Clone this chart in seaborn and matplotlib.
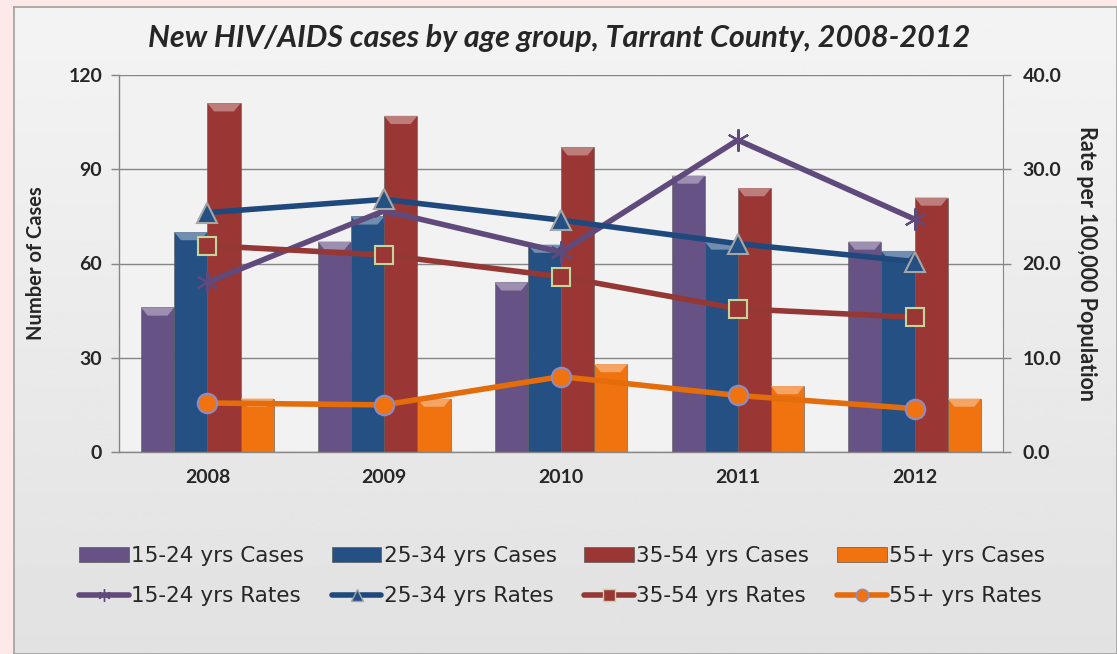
import numpy as np
import pandas as pd
import matplotlib.pyplot as plt
import seaborn as sns
from matplotlib.patches import Patch, Polygon
from matplotlib.lines import Line2D
import matplotlib.colors as mcolors

# values
years = ["2008", "2009", "2010", "2011", "2012"]
groups = ["15-24 yrs", "25-34 yrs", "35-54 yrs", "55+ yrs"]
cases_15_24 = [46, 67, 54, 88, 67]
cases_25_34 = [70, 75, 66, 67, 64]
cases_35_54 = [111, 107, 97, 84, 81]
cases_55 = [17, 17, 28, 21, 17]
rates_15_24 = [18.0, 25.6, 21.2, 33.1, 24.7]
rates_25_34 = [25.4, 26.8, 24.6, 22.1, 20.2]
rates_35_54 = [21.9, 20.9, 18.6, 15.2, 14.3]
rates_55 = [5.2, 5.0, 8.0, 6.0, 4.6]

bar_colors = ["#675286", "#245084", "#9A3734", "#F0730F"]
line_colors = ["#604A7B", "#1F497D", "#953735", "#E46C0A"]
markers = [(6, 2, 0), "^", "s", "o"]
marker_edges = ["#604A7B", "#A6A6A6", "#C3D69B", "#8C8CC8"]
marker_sizes = [16, 15, 13, 14]

cases = [cases_15_24, cases_25_34, cases_35_54, cases_55]
rates = [rates_15_24, rates_25_34, rates_35_54, rates_55]

df = pd.DataFrame({
    "Year": np.tile(years, len(groups)),
    "Group": np.repeat(groups, len(years)),
    "Cases": np.concatenate(cases),
})

sns.set_style("white")
plt.rcParams["font.family"] = ["Lato", "DejaVu Sans"]

fig = plt.figure(figsize=(11.17, 6.54), dpi=100)
fig.patch.set_facecolor("#FDE9E9")

# grey chart panel with a soft vertical gradient
bg = fig.add_axes([14 / 1117, 0, 1 - 14 / 1117, 1 - 7 / 654], zorder=-10)
grad = np.linspace(0.955, 0.885, 256).reshape(-1, 1)
bg.imshow(grad, aspect="auto", cmap="gray", vmin=0, vmax=1, extent=[0, 1, 0, 1])
bg.set_xticks([])
bg.set_yticks([])
for s in bg.spines.values():
    s.set_color("#A0A0A0")
    s.set_linewidth(1.2)

ax = fig.add_axes([119 / 1117, 1 - 452 / 654, (1003 - 119) / 1117, (452 - 75) / 654])
ax.set_facecolor("#F2F2F2")

sns.barplot(data=df, x="Year", y="Cases", hue="Group", palette=bar_colors,
            width=0.75, saturation=1, ax=ax, legend=False,
            edgecolor="#5A5A5A", linewidth=0.4)

# bevel on top of each bar
for p in list(ax.patches):
    x0, w, h = p.get_x(), p.get_width(), p.get_height()
    fc = np.array(mcolors.to_rgb(p.get_facecolor()))
    light = fc + (1 - fc) * 0.35
    band = 2.6
    poly = Polygon([[x0, h], [x0 + w, h], [x0 + w * 0.8, h - band], [x0 + w * 0.2, h - band]],
                   closed=True, facecolor=light, edgecolor="none", zorder=p.get_zorder() + 0.1)
    ax.add_patch(poly)

ax.set_ylim(0, 120)
ax.set_yticks([0, 30, 60, 90, 120])
ax.set_xlim(-0.5, len(years) - 0.5)
ax.yaxis.grid(True, color="#868686", linewidth=1)
ax.set_axisbelow(True)
ax.set_xlabel("")
ax.set_ylabel("Number of Cases", fontsize=14.5, fontweight="bold", labelpad=16)
ax.set_xticks(range(len(years)))
ax.set_xticklabels(years, fontsize=14, fontweight="bold")
ax.set_xticks(np.arange(-0.5, len(years)), minor=True)
ax.tick_params(axis="x", which="major", length=0, pad=12)
ax.tick_params(axis="x", which="minor", length=6, color="#868686", width=1)
ax.tick_params(axis="y", length=6, color="#868686", width=1, labelsize=14, pad=6)
for lab in ax.get_yticklabels():
    lab.set_fontweight("bold")
for side in ["left", "bottom"]:
    ax.spines[side].set_color("#868686")
    ax.spines[side].set_linewidth(1)
ax.spines["top"].set_visible(False)
ax.spines["right"].set_visible(False)

ax2 = ax.twinx()
pos = np.arange(len(years))
for i, g in enumerate(groups):
    sns.lineplot(x=pos, y=rates[i], ax=ax2, color=line_colors[i], linewidth=4,
                 marker=markers[i], markersize=marker_sizes[i],
                 markerfacecolor=bar_colors[i] if i else line_colors[i],
                 markeredgecolor=marker_edges[i], markeredgewidth=1.5)
ax2.set_ylim(0, 40)
ax2.set_xlim(-0.5, len(years) - 0.5)
ax2.set_yticks([0, 10, 20, 30, 40])
ax2.set_yticklabels([f"{v:.1f}" for v in [0, 10, 20, 30, 40]], fontsize=14, fontweight="bold")
ax2.tick_params(axis="y", length=6, color="#868686", width=1, pad=8)
ax2.set_ylabel("Rate per 100,000 Population", fontsize=15.5, fontweight="bold",
               rotation=-90, labelpad=26)
ax2.spines["right"].set_color("#868686")
for side in ["top", "left", "bottom"]:
    ax2.spines[side].set_visible(False)

fig.text(559 / 1117, 1 - 38 / 654, "New HIV/AIDS cases by age group, Tarrant County, 2008-2012",
         ha="center", va="center", fontsize=22, fontweight="bold", fontstyle="italic")

handles, labels = [], []
for i, g in enumerate(groups):
    handles.append(Patch(facecolor=bar_colors[i], edgecolor="#5A5A5A", linewidth=0.5))
    labels.append(f"{g} Cases")
    handles.append(Line2D([], [], color=line_colors[i], linewidth=4, marker=markers[i],
                          markersize=9, markerfacecolor=bar_colors[i] if i else line_colors[i],
                          markeredgecolor=marker_edges[i]))
    labels.append(f"{g} Rates")
fig.legend(handles, labels, ncol=4, loc="center", bbox_to_anchor=(562 / 1117, 1 - 576 / 654),
           frameon=False, prop={"family": "DejaVu Sans", "size": 15.5}, handlelength=2.3,
           handletextpad=0.1, columnspacing=1.3, labelspacing=0.95)

fig.savefig("out.png", dpi=100, facecolor=fig.get_facecolor())
